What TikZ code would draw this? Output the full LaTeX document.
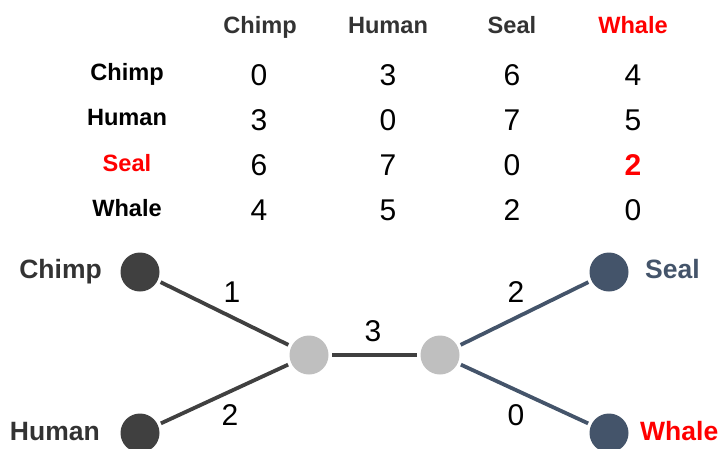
\documentclass[tikz,border=0pt]{standalone}
\usepackage{fontspec}
\setmainfont{Liberation Sans}
\begin{document}
\definecolor{ink}{HTML}{333333}
\definecolor{leafdark}{HTML}{404040}
\definecolor{slate}{HTML}{44546A}
\definecolor{inner}{HTML}{BFBFBF}
\definecolor{hot}{HTML}{FF0000}
\begin{tikzpicture}[x=1pt,y=-1pt,
  head/.style={font=\fontsize{23.6}{28}\selectfont\bfseries, text=ink, anchor=base, inner sep=0pt},
  rowlab/.style={font=\fontsize{23.6}{28}\selectfont\bfseries, text=black, anchor=base, inner sep=0pt},
  num/.style={font=\fontsize{30}{34}\selectfont, text=black, anchor=base, inner sep=0pt},
  leaflab/.style={font=\fontsize{26.5}{30}\selectfont\bfseries, inner sep=0pt},
  elab/.style={font=\fontsize{30}{34}\selectfont, text=black, anchor=base, inner sep=0pt},
  dot/.style={circle, minimum size=39pt, inner sep=0pt, outer sep=3.5pt},
  branch/.style={line width=3.8pt}]
\useasboundingbox (0,0) rectangle (726,448);

% distance matrix: column headings
\node[head] (hc) at (260,33) {Chimp};
\node[head] (hh) at (388,33) {Human};
\node[head] (hs) at (512,33) {Seal};
\node[head, text=hot] (hw) at (633,33) {Whale};

% row headings
\node[rowlab] (rc) at (127,80) {Chimp};
\node[rowlab] (rh) at (127,125) {Human};
\node[rowlab, text=hot] (rs) at (127,171) {Seal};
\node[rowlab] (rw) at (127,216) {Whale};

% matrix entries
\node[num] (m11) at (259,85) {0};
\node[num] (m12) at (388,85) {3};
\node[num] (m13) at (512,85) {6};
\node[num] (m14) at (633,85) {4};
\node[num] (m21) at (259,130) {3};
\node[num] (m22) at (388,130) {0};
\node[num] (m23) at (512,130) {7};
\node[num] (m24) at (633,130) {5};
\node[num] (m31) at (259,175) {6};
\node[num] (m32) at (388,175) {7};
\node[num] (m33) at (512,175) {0};
\node[num, text=hot, font=\fontsize{30}{34}\selectfont\bfseries] (m34) at (633,175) {2};
\node[num] (m41) at (259,220) {4};
\node[num] (m42) at (388,220) {5};
\node[num] (m43) at (512,220) {2};
\node[num] (m44) at (633,220) {0};

% tree nodes
\node[dot, fill=leafdark] (chimp) at (140,272) {};
\node[dot, fill=leafdark] (human) at (140,433) {};
\node[dot, fill=inner] (ia) at (309,355) {};
\node[dot, fill=inner] (ib) at (440,355) {};
\node[dot, fill=slate] (seal) at (609,272) {};
\node[dot, fill=slate] (whale) at (609,433) {};

% branches
\draw[branch, leafdark] (chimp) -- (ia);
\draw[branch, leafdark] (human) -- (ia);
\draw[branch, leafdark] (ia) -- (ib);
\draw[branch, slate] (ib) -- (seal);
\draw[branch, slate] (ib) -- (whale);

% leaf names
\node[leaflab, text=ink, anchor=base east] (lc) at (102,278) {Chimp};
\node[leaflab, text=ink, anchor=base east] (lh) at (100,440) {Human};
\node[leaflab, text=slate, anchor=base west] (ls) at (645,278) {Seal};
\node[leaflab, text=hot, anchor=base west] (lw) at (640,440) {Whale};

% branch lengths
\node[elab] (e1) at (232,302) {1};
\node[elab] (e2) at (230,425) {2};
\node[elab] (e3) at (373,341) {3};
\node[elab] (e4) at (516,302) {2};
\node[elab] (e5) at (516,425) {0};
\end{tikzpicture}
\end{document}
